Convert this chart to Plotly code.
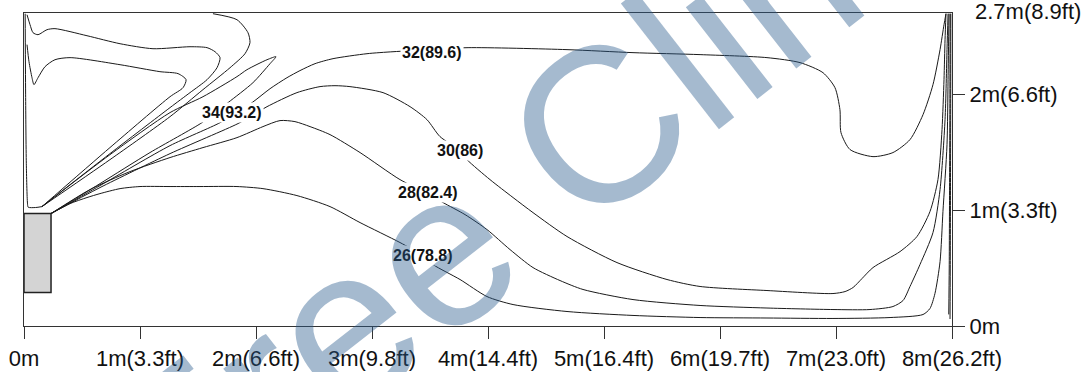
import plotly.graph_objects as go

# ---------------- data (metres) ----------------
x_ticks = [0, 1, 2, 3, 4, 5, 6, 7, 8]
x_ticktext = ["0m", "1m(3.3ft)", "2m(6.6ft)", "3m(9.8ft)", "4m(14.4ft)",
              "5m(16.4ft)", "6m(19.7ft)", "7m(23.0ft)", "8m(26.2ft)"]
y_ticks = [0, 1, 2]
y_ticktext = ["0m", "1m(3.3ft)", "2m(6.6ft)"]
room_w = 8.0
room_h = 2.7
room_h_label = "2.7m(8.9ft)"

heater_x = [0.0, 0.233, 0.233, 0.0, 0.0]
heater_y = [0.29, 0.29, 0.97, 0.97, 0.29]

line26_x = [0.233, 0.397, 0.543, 0.655, 0.828, 1.0, 1.259, 1.517, 1.836, 2.060, 2.353, 2.638,
            2.897, 3.241, 3.440, 3.526, 3.759, 3.991, 4.216, 4.681, 5.250, 5.828, 6.405, 6.974,
            7.466, 7.750, 7.810, 7.853, 7.897, 7.922, 7.957, 7.966, 7.974]
line26_y = [0.970, 1.056, 1.108, 1.142, 1.185, 1.203, 1.203, 1.203, 1.203, 1.185, 1.125, 1.030,
            0.892, 0.720, 0.608, 0.530, 0.401, 0.254, 0.185, 0.125, 0.091, 0.073, 0.069, 0.065,
            0.073, 0.099, 0.151, 0.280, 0.556, 0.987, 1.565, 2.125, 2.694]

line28_x = [0.233, 0.569, 0.914, 1.259, 1.543, 1.836, 2.060, 2.207, 2.336, 2.466, 2.638, 2.897,
            3.241, 3.483, 3.612, 3.802, 3.991, 4.190, 4.388, 4.621, 4.819, 5.250, 5.828, 6.405,
            6.974, 7.293, 7.491, 7.578, 7.638, 7.724, 7.836, 7.897, 7.940, 7.957, 7.966]
line28_y = [0.970, 1.177, 1.332, 1.453, 1.539, 1.625, 1.720, 1.772, 1.763, 1.720, 1.651, 1.496,
            1.263, 1.142, 1.065, 0.961, 0.832, 0.659, 0.504, 0.392, 0.315, 0.228, 0.177, 0.155,
            0.142, 0.142, 0.168, 0.220, 0.341, 0.530, 0.806, 1.177, 1.780, 2.384, 2.694]

line30_x = [0.233, 0.655, 1.259, 1.845, 1.966, 2.095, 2.353, 2.552, 2.681, 2.810, 3.095, 3.328,
            3.474, 3.586, 3.759, 3.819, 4.017, 4.216, 4.388, 4.681, 5.112, 5.543, 5.828, 6.405,
            6.974, 7.078, 7.147, 7.224, 7.319, 7.552, 7.698, 7.810, 7.879, 7.914, 7.931, 7.940, 7.948]
line30_y = [0.970, 1.194, 1.487, 1.746, 1.815, 1.892, 2.013, 2.065, 2.073, 2.065, 2.013, 1.892,
            1.780, 1.634, 1.513, 1.435, 1.263, 1.108, 0.978, 0.772, 0.547, 0.401, 0.341, 0.306,
            0.280, 0.297, 0.332, 0.409, 0.504, 0.642, 0.772, 0.987, 1.263, 1.694, 2.125, 2.470, 2.694]

line32_x = [0.233, 0.655, 1.259, 1.690, 1.828, 1.966, 2.121, 2.267, 2.379, 2.509, 2.664, 2.957,
            3.181, 3.517, 3.828, 4.681, 5.250, 5.828, 6.405, 6.690, 6.888, 6.991, 7.034, 7.043,
            7.121, 7.319, 7.491, 7.638, 7.750, 7.836, 7.897, 7.931, 7.948]
line32_y = [0.970, 1.211, 1.556, 1.754, 1.841, 1.927, 2.047, 2.142, 2.203, 2.263, 2.306, 2.349,
            2.366, 2.384, 2.401, 2.384, 2.358, 2.341, 2.315, 2.272, 2.185, 2.056, 1.866, 1.668,
            1.522, 1.461, 1.496, 1.608, 1.823, 2.082, 2.384, 2.599, 2.694]

tongue_x = [0.233, 0.655, 1.086, 1.534, 1.647, 1.759, 1.974, 2.121, 2.172, 2.095, 1.922, 1.836,
            1.543, 1.259, 0.741, 0.155]
tongue_y = [0.970, 1.228, 1.496, 1.754, 1.841, 1.927, 2.099, 2.263, 2.323, 2.297, 2.211, 2.151,
            1.978, 1.841, 1.478, 1.030]

toploop_x = [1.629, 1.836, 1.931, 1.948, 1.905, 1.776, 1.543, 1.259, 0.741, 0.155]
toploop_y = [2.694, 2.642, 2.530, 2.444, 2.349, 2.228, 2.039, 1.806, 1.435, 1.030]

loop1_x = [0.026, 0.052, 0.078, 0.121, 0.198, 0.267, 0.543, 0.828, 1.112, 1.431, 1.578, 1.647,
           1.690, 1.664, 1.578, 1.431, 1.259, 0.741, 0.155]
loop1_y = [2.685, 2.599, 2.530, 2.513, 2.556, 2.565, 2.504, 2.435, 2.392, 2.409, 2.401, 2.366,
           2.315, 2.228, 2.125, 2.013, 1.884, 1.487, 1.030]

loop2_x = [0.026, 0.043, 0.069, 0.086, 0.121, 0.181, 0.267, 0.397, 0.828, 1.172, 1.328, 1.397,
           1.371, 1.259, 0.741, 0.155]
loop2_y = [2.427, 2.280, 2.142, 2.082, 2.142, 2.237, 2.297, 2.315, 2.254, 2.194, 2.177, 2.125,
           2.056, 1.978, 1.539, 1.030]

leftwall_x = [0.010, 0.014, 0.020, 0.030, 0.036, 0.100, 0.155]
leftwall_y = [2.694, 2.000, 1.400, 1.060, 1.025, 1.022, 1.030]

rightwall1_x = [7.984, 7.982, 7.979, 7.976, 7.972]
rightwall1_y = [2.694, 2.000, 1.200, 0.500, 0.100]
rightwall2_x = [7.990, 7.989, 7.987, 7.985, 7.983]
rightwall2_y = [2.694, 2.000, 1.200, 0.500, 0.060]

label_text = ["34(93.2)", "32(89.6)", "30(86)", "28(82.4)", "26(78.8)"]
label_x = [1.793, 3.517, 3.759, 3.483, 3.440]
label_y = [1.841, 2.358, 1.513, 1.151, 0.608]

watermark = "Free Climate"

# ---------------- figure ----------------
fig = go.Figure()

fig.add_trace(go.Scatter(x=heater_x, y=heater_y, mode="lines", fill="toself",
                         fillcolor="#d4d4d4", line=dict(color="#222222", width=1.5),
                         hoverinfo="skip"))

contours = [
    (line26_x, line26_y), (line28_x, line28_y), (line30_x, line30_y),
    (line32_x, line32_y), (tongue_x, tongue_y), (toploop_x, toploop_y),
    (loop1_x, loop1_y), (loop2_x, loop2_y), (leftwall_x, leftwall_y),
    (rightwall1_x, rightwall1_y), (rightwall2_x, rightwall2_y),
]
for cx, cy in contours:
    fig.add_trace(go.Scatter(x=cx, y=cy, mode="lines",
                             line=dict(color="#1a1a1a", width=1, shape="spline", smoothing=0.7),
                             hoverinfo="skip"))

annotations = []
for t, lx, ly in zip(label_text, label_x, label_y):
    annotations.append(dict(x=lx, y=ly, xref="x", yref="y", text="<b>%s</b>" % t,
                            showarrow=False, bgcolor="white", borderpad=1,
                            font=dict(family="Liberation Sans, Arial", size=16, color="#111111")))

annotations.append(dict(x=1.0, y=room_h, xref="paper", yref="y", text=room_h_label,
                        showarrow=False, xanchor="left", yanchor="middle", xshift=21, yshift=2,
                        font=dict(family="Liberation Sans, Arial", size=22, color="#111111")))

annotations.append(dict(x=5.19, y=1.91, xref="x", yref="y", text=watermark, showarrow=False,
                        textangle=-38, xanchor="center", yanchor="middle",
                        font=dict(family="Liberation Sans, Arial", size=220,
                                  color="rgba(40,90,140,0.42)")))

fig.update_layout(
    width=1091, height=372,
    margin=dict(l=24, r=139, t=13, b=46, autoexpand=False),
    paper_bgcolor="white", plot_bgcolor="white",
    showlegend=False,
    annotations=annotations,
    font=dict(family="Liberation Sans, Arial", size=22, color="#111111"),
)
fig.update_xaxes(range=[0, room_w], tickvals=x_ticks, ticktext=x_ticktext, automargin=False,
                 showline=True, linecolor="#333333", linewidth=1.2, mirror=True,
                 ticks="outside", ticklen=12, tickcolor="#333333", tickwidth=1.2,
                 showgrid=False, zeroline=False)
fig.update_yaxes(range=[0, room_h], tickvals=y_ticks, ticktext=y_ticktext, side="right",
                 automargin=False,
                 showline=True, linecolor="#333333", linewidth=1.2, mirror=True,
                 ticks="outside", ticklen=12, tickcolor="#333333", tickwidth=1.2,
                 showgrid=False, zeroline=False)

fig.write_html("out.html", config={"displayModeBar": False},
               post_script="document.body.style.margin='0';document.body.style.padding='0';")
